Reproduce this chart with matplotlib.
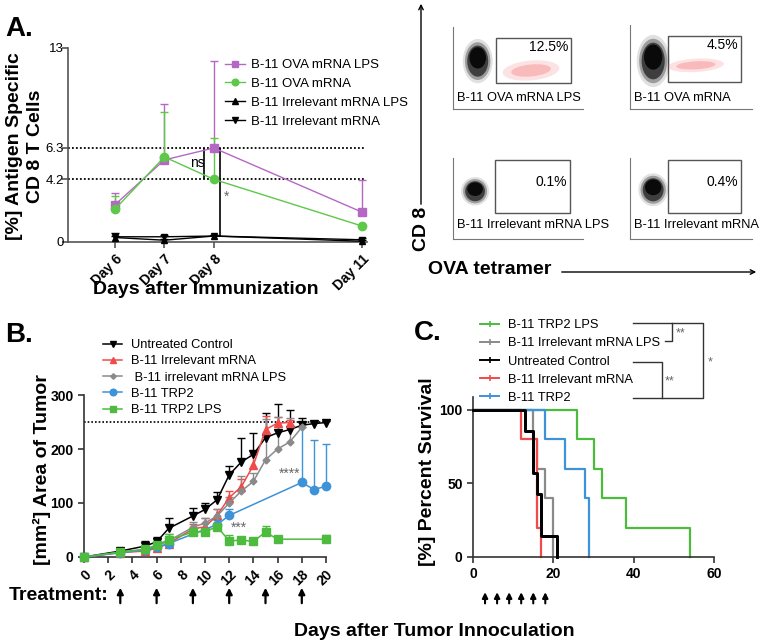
import matplotlib
matplotlib.use('Agg')
import matplotlib.pyplot as plt
from matplotlib.lines import Line2D
from matplotlib.patches import Ellipse, Rectangle
import numpy as np

plt.rcParams['font.family'] = ['Liberation Sans', 'DejaVu Sans']

W, H = 760, 642

# ---------------- Panel A: tetramer+ CD8 T cells ----------------
IMM_DAYS = [6, 7, 8, 11]
IMM_TICKS = ['Day 6', 'Day 7', 'Day 8', 'Day 11']
OVA_LPS = [2.5, 5.5, 6.3, 2.0]
OVA_LPS_ERR = [0.8, 3.75, 5.8, 2.15]
OVA = [2.2, 5.7, 4.2, 1.07]
OVA_ERR = [0.85, 3.0, 2.75, 0.0]
IRR_LPS_A = [0.3, 0.12, 0.4, 0.05]
IRR_LPS_A_ERR = [0.1, 0.05, 0.05, 0.1]
IRR_A = [0.35, 0.35, 0.4, 0.15]
IRR_A_ERR = [0.28, 0.12, 0.08, 0.12]
REF_LEVELS = [6.3, 4.2]

# ---------------- Flow plots ----------------
FLOW_LABELS = ['B-11 OVA mRNA LPS', 'B-11 OVA mRNA',
               'B-11 Irrelevant mRNA LPS', 'B-11 Irrelevant mRNA']
FLOW_PCT = ['12.5%', '4.5%', '0.1%', '0.4%']
# tetramer- cluster: centre x, centre y, width, height (fraction of plot)
NEG_CLUSTER = [(0.19, 0.60, 0.17, 0.40), (0.19, 0.59, 0.20, 0.46),
               (0.17, 0.60, 0.16, 0.26), (0.19, 0.62, 0.18, 0.30)]
# tetramer+ cloud: centre x, centre y, width, height, tilt
POS_CLUSTER = [(0.60, 0.47, 0.44, 0.24, 10), (0.54, 0.52, 0.46, 0.16, 5), None, None]
GATES = [(0.333, 0.317, 0.907, 0.866), (0.31, 0.317, 0.91, 0.866),
         (0.323, 0.32, 0.90, 0.975), (0.31, 0.32, 0.91, 0.975)]

# ---------------- Panel B: tumour growth ----------------
DAYS_UNT = [0, 3, 5, 6, 7, 9, 10, 11, 12, 13, 14, 15, 16, 17, 18, 19, 20]
UNT = [0, 11, 20, 28, 53, 76, 88, 106, 152, 176, 190, 221, 230, 236, 244, 247, 249]
UNT_ERR = [0, 3, 10, 9, 19, 15, 12, 15, 16, 45, 39, 45, 53, 36, 14, 3, 2]
DAYS_IRR = [0, 3, 5, 6, 7, 9, 10, 11, 12, 13, 14, 15, 16, 17]
IRR = [0, 8, 11, 16, 25, 52, 56, 77, 110, 130, 170, 236, 248, 249]
IRR_ERR = [0, 2, 5, 5, 6, 10, 16, 12, 12, 15, 20, 26, 12, 5]
DAYS_IRR_LPS = [0, 3, 5, 6, 7, 9, 10, 11, 12, 13, 14, 15, 16, 17, 18]
IRR_LPS = [0, 9, 14, 20, 30, 55, 63, 76, 100, 122, 140, 180, 200, 213, 240]
IRR_LPS_ERR = [0, 2, 4, 5, 12, 10, 10, 12, 12, 28, 15, 75, 60, 45, 10]
DAYS_TRP2 = [0, 3, 5, 6, 7, 11, 12, 18, 19, 20]
TRP2 = [0, 8, 13, 18, 25, 60, 77, 138, 125, 131]
TRP2_ERR = [0, 2, 3, 3, 4, 8, 12, 102, 92, 78]
DAYS_TRP2_LPS = [0, 3, 5, 6, 7, 9, 10, 11, 12, 13, 14, 15, 16, 20]
TRP2_LPS = [0, 9, 14, 22, 32, 46, 47, 56, 30, 31, 29, 46, 33, 33]
TRP2_LPS_ERR = [0, 2, 3, 4, 10, 5, 6, 6, 10, 4, 3, 11, 5, 8]
TREATMENT_DAYS = [3, 6, 9, 12, 15, 18]
TUMOR_LIMIT = 250

# ---------------- Panel C: survival ----------------
SURV_TRP2_LPS_T = [0, 26, 30, 32, 38, 54]
SURV_TRP2_LPS = [100, 80, 60, 40, 20, 0]
SURV_IRR_LPS_T = [0, 15, 16, 18, 20]
SURV_IRR_LPS = [100, 80, 60, 40, 0]
SURV_UNT_T = [0, 13, 15, 16, 17, 21]
SURV_UNT = [100, 85.7, 57.1, 42.9, 14.3, 0]
SURV_IRR_T = [0, 12, 16, 17]
SURV_IRR = [100, 80, 20, 0]
SURV_TRP2_T = [0, 18, 23, 28, 29]
SURV_TRP2 = [100, 80, 60, 40, 0]

PURPLE = '#b468c4'
GREEN = '#5ec84a'
RED = '#f04a4a'
GREY = '#8a8a8a'
BLUE = '#3d92d8'
BGREEN = '#4dbb3e'


def rect(l, t, r, b):
    return [l / W, 1 - b / H, (r - l) / W, (b - t) / H]


def style(ax, color='#333333'):
    for s in ['top', 'right']:
        ax.spines[s].set_visible(False)
    for s in ['left', 'bottom']:
        ax.spines[s].set_color(color)
        ax.spines[s].set_linewidth(1.2)
    ax.tick_params(color=color, width=1.2, length=4)


def upper_err(ax, x, y, e, color, lw=1.0):
    x = np.asarray(x, float)
    y = np.asarray(y, float)
    e = np.asarray(e, float)
    keep = e > 0
    top = y + e
    ax.vlines(x[keep], y[keep], top[keep], color=color, lw=lw, zorder=2, clip_on=False)
    ax.scatter(x[keep], top[keep], marker='_', s=30, color=color, linewidths=lw,
               zorder=2, clip_on=False)


def treatment_arrow(ax, d, y0, y1, lw, ms):
    ax.annotate('', xy=(d, y0), xytext=(d, y1), xycoords=ax.get_xaxis_transform(),
                arrowprops=dict(arrowstyle='-|>', lw=lw, color='black', mutation_scale=ms,
                                shrinkA=0, shrinkB=0))


fig = plt.figure(figsize=(W / 100, H / 100), dpi=100)

# ===== Panel A =====
axA = fig.add_axes(rect(68, 48, 367, 242))
style(axA, '#555555')
axA.set_xlim(5.05, 11.1)
axA.set_ylim(0, 13)
for lvl in REF_LEVELS:
    axA.hlines(lvl, 5.05, 11.05, colors='black', linestyles=(0, (1, 1.2)), lw=1.3)
upper_err(axA, IMM_DAYS, OVA_LPS, OVA_LPS_ERR, PURPLE)
upper_err(axA, IMM_DAYS, OVA, OVA_ERR, GREEN)
upper_err(axA, IMM_DAYS, IRR_LPS_A, IRR_LPS_A_ERR, 'black')
upper_err(axA, IMM_DAYS, IRR_A, IRR_A_ERR, 'black')
axA.plot(IMM_DAYS, OVA_LPS, color=PURPLE, marker='s', ms=6, lw=1, label='B-11 OVA mRNA LPS', clip_on=False, zorder=3)
axA.plot(IMM_DAYS, OVA, color=GREEN, marker='o', ms=6, lw=1, label='B-11 OVA mRNA', clip_on=False, zorder=3)
axA.plot(IMM_DAYS, IRR_LPS_A, color='black', marker='^', ms=5, lw=1, label='B-11 Irrelevant mRNA LPS', clip_on=False, zorder=3)
axA.plot(IMM_DAYS, IRR_A, color='black', marker='v', ms=5, lw=1, label='B-11 Irrelevant mRNA', clip_on=False, zorder=3)
axA.vlines(7.8, 4.2, 6.3, colors='black', lw=1.2)
axA.vlines(8.12, 0.4, 6.3, colors='black', lw=1.2)
axA.text(7.66, 5.3, 'ns', ha='center', va='center', fontsize=10)
axA.text(8.26, 3.05, '*', ha='center', va='center', fontsize=10, color='#666666')
axA.set_yticks([0, 4.2, 6.3, 13])
axA.set_yticklabels(['0', '4.2', '6.3', '13'], fontsize=9.5)
axA.set_xticks(IMM_DAYS)
axA.set_xticklabels(IMM_TICKS, rotation=45, ha='right', rotation_mode='anchor',
                    fontsize=10, fontweight='bold')
axA.tick_params(axis='y', pad=-1)
axA.set_ylabel('[%] Antigen Specific\nCD 8 T Cells', fontsize=14, fontweight='bold',
               va='center', linespacing=1.35)
axA.yaxis.set_label_coords((25 - 68) / 299, (242 - 146) / 194)
axA.set_xlabel('Days after Immunization', fontsize=14, fontweight='bold', va='center')
axA.xaxis.set_label_coords((206 - 68) / 299, (242 - 290) / 194)
axA.legend(loc='upper left', bbox_to_anchor=(225 / W, 1 - 59 / H), bbox_transform=fig.transFigure,
           frameon=False, fontsize=9.5, handlelength=1.5, handletextpad=0.5, borderpad=0,
           borderaxespad=0, labelspacing=0.5, numpoints=1, markerscale=0.8)

# ===== Flow plots =====
flow_rects = [(453, 27, 583, 109), (630, 25, 752, 109), (453, 158, 583, 239), (630, 158, 752, 239)]
label_y = [0.134, 0.134, 0.17, 0.17]
pct_y = [0.756, 0.756, 0.70, 0.70]
for i, r in enumerate(flow_rects):
    ax = fig.add_axes(rect(*r))
    ax.set_xlim(0, 1)
    ax.set_ylim(0, 1)
    for s in ['top', 'right']:
        ax.spines[s].set_visible(False)
    for s in ['left', 'bottom']:
        ax.spines[s].set_color('#777777')
        ax.spines[s].set_linewidth(0.8)
    ax.set_xticks([])
    ax.set_yticks([])
    gx0, gy0, gx1, gy1 = GATES[i]
    ax.add_patch(Rectangle((gx0, gy0), gx1 - gx0, gy1 - gy0, fill=False, ec='#555555', lw=1))
    cx, cy, cw, ch = NEG_CLUSTER[i]
    # soft cluster: fading layers around a dense core
    for scale, alpha in [(1.35, 0.12), (1.15, 0.3), (0.95, 0.6)]:
        ax.add_patch(Ellipse((cx, cy - ch * 0.04), cw * scale, ch * scale, fc='black',
                             ec='none', alpha=alpha))
    ax.add_patch(Ellipse((cx, cy + ch * 0.06), cw * 0.75, ch * 0.65, fc='#0a0a0a', ec='none'))
    if POS_CLUSTER[i] is not None:
        px_, py_, pw, ph, ang = POS_CLUSTER[i]
        ax.add_patch(Ellipse((px_, py_), pw, ph, angle=ang, fc='#f26060', ec='none', alpha=0.18))
        ax.add_patch(Ellipse((px_, py_), pw * 0.7, ph * 0.6, angle=ang, fc='#ee4444', ec='none',
                             alpha=0.25))
    ax.text(gx1 - 0.02, pct_y[i], FLOW_PCT[i], ha='right', va='center', fontsize=10)
    ax.text(0.03, label_y[i], FLOW_LABELS[i], ha='left', va='center', fontsize=9.3)

# ===== Panel B =====
axB = fig.add_axes(rect(84, 395, 326, 557))
style(axB)
axB.set_xlim(0, 20)
axB.set_ylim(0, 300)
axB.hlines(TUMOR_LIMIT, 0, 20, colors='black', linestyles=(0, (1, 1.2)), lw=1.2)
series_b = [
    (DAYS_UNT, UNT, UNT_ERR, 'black', 'v', 6, 'Untreated Control'),
    (DAYS_IRR, IRR, IRR_ERR, RED, '^', 5.5, 'B-11 Irrelevant mRNA'),
    (DAYS_IRR_LPS, IRR_LPS, IRR_LPS_ERR, GREY, 'D', 3.5, ' B-11 irrelevant mRNA LPS'),
    (DAYS_TRP2, TRP2, TRP2_ERR, BLUE, 'o', 6, 'B-11 TRP2'),
    (DAYS_TRP2_LPS, TRP2_LPS, TRP2_LPS_ERR, BGREEN, 's', 5.5, 'B-11 TRP2 LPS'),
]
for d, v, e, c, m, ms, lab in series_b:
    upper_err(axB, d, v, e, c)
for d, v, e, c, m, ms, lab in series_b:
    axB.plot(d, v, color=c, marker=m, ms=ms, lw=1.1, label=lab, clip_on=False, zorder=3)
axB.text(17.0, 155, '****', ha='center', va='center', fontsize=10, color='#666666')
axB.text(12.8, 54, '***', ha='center', va='center', fontsize=10, color='#666666')
axB.set_xticks(range(0, 21, 2))
axB.set_xticklabels([str(t) for t in range(0, 21, 2)], rotation=45, ha='right',
                    rotation_mode='anchor', fontsize=10, fontweight='bold')
axB.set_yticks([0, 100, 200, 300])
axB.set_yticklabels(['0', '100', '200', '300'], fontsize=10, fontweight='bold')
axB.set_ylabel('[mm²] Area of Tumor', fontsize=14, fontweight='bold', va='center')
axB.yaxis.set_label_coords((42 - 84) / 242, (557 - 470) / 162)
axB.legend(loc='upper left', bbox_to_anchor=(103 / W, 1 - 339 / H), bbox_transform=fig.transFigure,
           frameon=False, fontsize=9.3, handlelength=1.5, handletextpad=0.7, borderpad=0,
           borderaxespad=0, labelspacing=0.33, numpoints=1, markerscale=0.8)
for d in TREATMENT_DAYS:
    treatment_arrow(axB, d, -0.19, -0.285, 1.6, 9)

# ===== Panel C =====
axC = fig.add_axes(rect(473, 397, 714, 557))
style(axC)
axC.set_xlim(0, 60)
axC.set_ylim(0, 108.6)
series_c = [
    (SURV_TRP2_LPS_T, SURV_TRP2_LPS, BGREEN, 1.6, 'B-11 TRP2 LPS'),
    (SURV_IRR_LPS_T, SURV_IRR_LPS, GREY, 1.6, 'B-11 Irrelevant mRNA LPS'),
    (SURV_UNT_T, SURV_UNT, 'black', 2.0, 'Untreated Control'),
    (SURV_IRR_T, SURV_IRR, RED, 1.6, 'B-11 Irrelevant mRNA'),
    (SURV_TRP2_T, SURV_TRP2, BLUE, 1.6, 'B-11 TRP2'),
]
handles = []
for t, s, c, lw, lab in series_c:
    axC.step(t, s, where='post', color=c, lw=lw, clip_on=False)
    handles.append(Line2D([], [], color=c, lw=1.4, marker='|', ms=4, mew=1.2, label=lab))
# draw black on top of grey/red
axC.step(SURV_UNT_T, SURV_UNT, where='post', color='black', lw=2.0, clip_on=False, zorder=3)
axC.set_xticks([0, 20, 40, 60])
axC.set_xticklabels(['0', '20', '40', '60'], fontsize=10, fontweight='bold')
axC.set_yticks([0, 50, 100])
axC.set_yticklabels(['0', '50', '100'], fontsize=10, fontweight='bold')
axC.set_ylabel('[%] Percent Survival', fontsize=14, fontweight='bold', va='center')
axC.yaxis.set_label_coords((427 - 473) / 241, (557 - 472) / 160)
axC.legend(handles=handles, loc='upper left', bbox_to_anchor=(480 / W, 1 - 319 / H),
           bbox_transform=fig.transFigure, frameon=False, fontsize=9.3, handlelength=1.5,
           handletextpad=0.7, borderpad=0, borderaxespad=0, labelspacing=0.48)
for d in TREATMENT_DAYS:
    treatment_arrow(axC, d, -0.22, -0.29, 1.5, 8)

# ===== overlay: panel letters, shared labels, brackets =====
ov = fig.add_axes([0, 0, 1, 1])
ov.set_xlim(0, W)
ov.set_ylim(H, 0)
ov.axis('off')
ov.text(5, 29, 'A.', fontsize=20, fontweight='bold', va='center')
ov.text(5, 335, 'B.', fontsize=20, fontweight='bold', va='center')
ov.text(414, 333, 'C.', fontsize=20, fontweight='bold', va='center')
ov.text(434, 631, 'Days after Tumor Innoculation', fontsize=14, fontweight='bold',
        ha='center', va='center')
ov.text(9, 595, 'Treatment:', fontsize=14, fontweight='bold', va='center')
# flow axes arrows
ov.annotate('', xy=(421, 1), xytext=(421, 207),
            arrowprops=dict(arrowstyle='->', lw=1, color='black', mutation_scale=8))
ov.annotate('', xy=(759, 272), xytext=(559, 272),
            arrowprops=dict(arrowstyle='->', lw=1, color='black', mutation_scale=8))
ov.text(422, 229, 'CD 8', rotation=90, fontsize=14, fontweight='bold', ha='center', va='center')
ov.text(428, 270, 'OVA tetramer', fontsize=14, fontweight='bold', ha='left', va='center')
# survival comparison brackets
ov.plot([633, 703, 703, 633], [323, 323, 398, 398], color='#333333', lw=1)
ov.plot([633, 662, 662], [362, 362, 398], color='#333333', lw=1)
ov.plot([665, 672, 672], [341, 341, 323], color='#333333', lw=1)
ov.text(681, 333, '**', fontsize=9, color='#666666', ha='center', va='center')
ov.text(670, 381, '**', fontsize=9, color='#666666', ha='center', va='center')
ov.text(710, 362, '*', fontsize=9, color='#666666', ha='center', va='center')

fig.savefig('out.png', dpi=100)
